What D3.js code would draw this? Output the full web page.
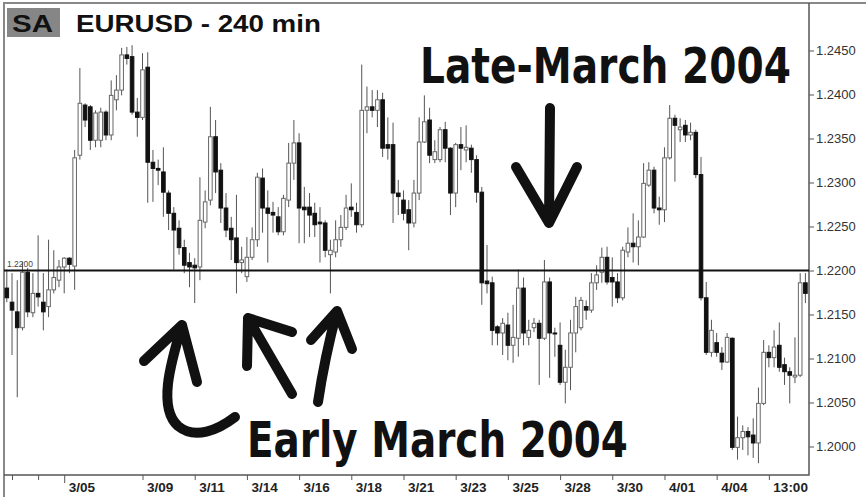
<!DOCTYPE html>
<html lang="en">
<head>
	<title>EURUSD - 240 min</title>
	<meta charset="utf-8">
	<script src="https://d3js.org/d3.v7.min.js"></script>
	<style type="text/css">
		body {
			margin: 0;
			background: #fff;
		}

		svg {
			display: block;
		}

		.price-axis text {
			font-family: "Liberation Sans", Arial, sans-serif;
			font-size: 13px;
			fill: #333;
		}

		.time-axis text {
			font-family: "Liberation Sans", Arial, sans-serif;
			font-size: 13.5px;
			font-weight: bold;
			fill: #222;
		}

		.price-axis line,
		.time-axis line {
			stroke: #555;
		}

		path.domain {
			display: none;
		}

		.note {
			font-family: "Liberation Sans Narrow", "DejaVu Sans Condensed", "Liberation Sans", sans-serif;
			font-weight: bold;
			font-size: 50px;
			fill: #111;
		}

		.arrow {
			fill: none;
			stroke: #111;
			stroke-width: 10;
			stroke-linecap: round;
			stroke-linejoin: round;
		}
	</style>
</head>
<body>

	<div id="vis"></div>

	<script type="text/javascript">

		/* Data: EURUSD 240 min bars, early March to early April 2004 */
		/* ========================================================== */

		const opens = [
			1.2180, 1.2164, 1.2153, 1.2135, 1.2198, 1.2152, 1.2174, 1.2164, 1.2159, 1.2178,
			1.2189, 1.2204, 1.2214, 1.2205, 1.2331, 1.2388, 1.2386, 1.2348, 1.2348, 1.2380,
			1.2354, 1.2394, 1.2405, 1.2445, 1.2443, 1.2380, 1.2374, 1.2431, 1.2323, 1.2316,
			1.2312, 1.2288, 1.2265, 1.2248, 1.2226, 1.2209, 1.2206, 1.2204, 1.2255, 1.2280,
			1.2352, 1.2314, 1.2271, 1.2248, 1.2237, 1.2209, 1.2193, 1.2215, 1.2235, 1.2305,
			1.2271, 1.2266, 1.2261, 1.2244, 1.2280, 1.2322, 1.2345, 1.2272, 1.2272, 1.2265,
			1.2255, 1.2254, 1.2218, 1.2221, 1.2235, 1.2249, 1.2272, 1.2266, 1.2252, 1.2382,
			1.2386, 1.2382, 1.2394, 1.2343, 1.2343, 1.2288, 1.2280, 1.2269, 1.2254, 1.2288,
			1.2346, 1.2371, 1.2326, 1.2326, 1.2360, 1.2339, 1.2288, 1.2343, 1.2337, 1.2339,
			1.2326, 1.2289, 1.2188, 1.2186, 1.2136, 1.2129, 1.2138, 1.2115, 1.2123, 1.2180,
			1.2124, 1.2135, 1.2140, 1.2123, 1.2187, 1.2129, 1.2115, 1.2073, 1.2090, 1.2129,
			1.2135, 1.2159, 1.2155, 1.2186, 1.2198, 1.2215, 1.2192, 1.2187, 1.2169, 1.2221,
			1.2231, 1.2227, 1.2238, 1.2297, 1.2314, 1.2271, 1.2269, 1.2328, 1.2373, 1.2360,
			1.2365, 1.2354, 1.2357, 1.2309, 1.2169, 1.2107, 1.2118, 1.2106, 1.2096, 1.2123,
			1.1999, 1.2010, 1.2017, 1.2013, 1.2004, 1.2049, 1.2107, 1.2101, 1.2115, 1.2093,
			1.2085, 1.2079, 1.2081, 1.2186
		];

		const highs = [
			1.2201, 1.2197, 1.2189, 1.2210, 1.2203, 1.2197, 1.2240, 1.2197, 1.2235, 1.2223,
			1.2212, 1.2215, 1.2215, 1.2337, 1.2430, 1.2390, 1.2388, 1.2382, 1.2385, 1.2382,
			1.2416, 1.2422, 1.2453, 1.2454, 1.2456, 1.2396, 1.2447, 1.2448, 1.2337, 1.2326,
			1.2340, 1.2291, 1.2272, 1.2257, 1.2235, 1.2220, 1.2214, 1.2306, 1.2291, 1.2386,
			1.2371, 1.2322, 1.2288, 1.2261, 1.2286, 1.2227, 1.2238, 1.2249, 1.2311, 1.2316,
			1.2291, 1.2278, 1.2272, 1.2286, 1.2345, 1.2371, 1.2356, 1.2295, 1.2288, 1.2277,
			1.2272, 1.2257, 1.2235, 1.2257, 1.2263, 1.2286, 1.2299, 1.2277, 1.2434, 1.2409,
			1.2405, 1.2405, 1.2402, 1.2374, 1.2368, 1.2303, 1.2291, 1.2280, 1.2303, 1.2374,
			1.2399, 1.2385, 1.2348, 1.2363, 1.2369, 1.2340, 1.2345, 1.2363, 1.2365, 1.2343,
			1.2331, 1.2295, 1.2229, 1.2193, 1.2138, 1.2146, 1.2152, 1.2161, 1.2201, 1.2192,
			1.2144, 1.2146, 1.2144, 1.2212, 1.2192, 1.2135, 1.2141, 1.2110, 1.2144, 1.2170,
			1.2170, 1.2166, 1.2197, 1.2206, 1.2226, 1.2227, 1.2215, 1.2197, 1.2227, 1.2249,
			1.2265, 1.2257, 1.2322, 1.2323, 1.2318, 1.2284, 1.2340, 1.2388, 1.2377, 1.2373,
			1.2371, 1.2368, 1.2360, 1.2329, 1.2187, 1.2144, 1.2129, 1.2113, 1.2129, 1.2124,
			1.2034, 1.2024, 1.2022, 1.2032, 1.2067, 1.2121, 1.2115, 1.2132, 1.2141, 1.2101,
			1.2090, 1.2124, 1.2197, 1.2197
		];

		const lows = [
			1.2164, 1.2104, 1.2056, 1.2132, 1.2147, 1.2147, 1.2159, 1.2132, 1.2147, 1.2174,
			1.2181, 1.2174, 1.2197, 1.2178, 1.2326, 1.2363, 1.2337, 1.2340, 1.2340, 1.2348,
			1.2348, 1.2382, 1.2399, 1.2434, 1.2377, 1.2352, 1.2371, 1.2277, 1.2278, 1.2297,
			1.2261, 1.2246, 1.2201, 1.2218, 1.2197, 1.2181, 1.2163, 1.2189, 1.2248, 1.2274,
			1.2288, 1.2254, 1.2238, 1.2212, 1.2174, 1.2197, 1.2187, 1.2212, 1.2227, 1.2243,
			1.2209, 1.2243, 1.2240, 1.2240, 1.2272, 1.2303, 1.2231, 1.2231, 1.2238, 1.2238,
			1.2209, 1.2215, 1.2174, 1.2215, 1.2227, 1.2246, 1.2261, 1.2243, 1.2249, 1.2356,
			1.2374, 1.2363, 1.2329, 1.2326, 1.2254, 1.2263, 1.2257, 1.2223, 1.2249, 1.2280,
			1.2345, 1.2322, 1.2322, 1.2323, 1.2323, 1.2263, 1.2272, 1.2314, 1.2323, 1.2311,
			1.2277, 1.2161, 1.2174, 1.2115, 1.2115, 1.2104, 1.2098, 1.2095, 1.2102, 1.2115,
			1.2115, 1.2130, 1.2070, 1.2121, 1.2078, 1.2102, 1.2070, 1.2049, 1.2064, 1.2107,
			1.2132, 1.2144, 1.2152, 1.2178, 1.2186, 1.2184, 1.2159, 1.2163, 1.2166, 1.2215,
			1.2209, 1.2206, 1.2237, 1.2295, 1.2265, 1.2252, 1.2255, 1.2326, 1.2301, 1.2346,
			1.2346, 1.2348, 1.2305, 1.2166, 1.2104, 1.2102, 1.2102, 1.2087, 1.2095, 1.1996,
			1.1985, 1.1996, 1.1990, 1.1987, 1.1981, 1.2047, 1.2090, 1.2090, 1.2085, 1.2070,
			1.2049, 1.2072, 1.2079, 1.2163
		];

		const closes = [
			1.2169, 1.2155, 1.2135, 1.2198, 1.2153, 1.2174, 1.2170, 1.2153, 1.2178, 1.2192,
			1.2204, 1.2214, 1.2207, 1.2328, 1.2390, 1.2371, 1.2348, 1.2379, 1.2380, 1.2354,
			1.2399, 1.2405, 1.2445, 1.2441, 1.2380, 1.2374, 1.2428, 1.2323, 1.2316, 1.2314,
			1.2289, 1.2265, 1.2246, 1.2226, 1.2206, 1.2204, 1.2203, 1.2257, 1.2278, 1.2352,
			1.2312, 1.2271, 1.2246, 1.2235, 1.2209, 1.2212, 1.2215, 1.2235, 1.2306, 1.2271,
			1.2265, 1.2263, 1.2244, 1.2282, 1.2322, 1.2345, 1.2271, 1.2269, 1.2263, 1.2252,
			1.2253, 1.2223, 1.2223, 1.2235, 1.2249, 1.2271, 1.2269, 1.2252, 1.2382, 1.2386,
			1.2382, 1.2394, 1.2339, 1.2339, 1.2288, 1.2284, 1.2265, 1.2254, 1.2288, 1.2346,
			1.2369, 1.2331, 1.2335, 1.2360, 1.2339, 1.2288, 1.2343, 1.2339, 1.2340, 1.2326,
			1.2289, 1.2186, 1.2185, 1.2132, 1.2129, 1.2140, 1.2115, 1.2124, 1.2180, 1.2129,
			1.2132, 1.2140, 1.2123, 1.2187, 1.2129, 1.2128, 1.2073, 1.2090, 1.2129, 1.2159,
			1.2166, 1.2155, 1.2186, 1.2195, 1.2215, 1.2187, 1.2187, 1.2169, 1.2223, 1.2231,
			1.2227, 1.2238, 1.2299, 1.2314, 1.2271, 1.2269, 1.2328, 1.2373, 1.2365, 1.2363,
			1.2354, 1.2357, 1.2309, 1.2169, 1.2107, 1.2132, 1.2107, 1.2096, 1.2124, 1.1999,
			1.2010, 1.2017, 1.2011, 1.2004, 1.2049, 1.2107, 1.2101, 1.2113, 1.2090, 1.2085,
			1.2081, 1.2081, 1.2186, 1.2174
		];

		// bar index of each time tick and its label
		const tickBars = [1, 6, 11, 26, 36, 46, 56, 66, 76, 86, 96, 106, 116, 126, 136, 146];
		const tickLabels = ["", "", "3/05", "3/09", "3/11", "3/14", "3/16", "3/18", "3/21",
			"3/23", "3/25", "3/28", "3/30", "4/01", "4/04", "13:00"];

		const priceTicks = [1.2000, 1.2050, 1.2100, 1.2150, 1.2200, 1.2250, 1.2300, 1.2350, 1.2400, 1.2450];
		const supportLevel = 1.2200;


		/* Set up */
		/* ====== */

		var width = 866,
			height = 497;

		var plot = { left: 4, top: 3, right: 809, bottom: 475 };

		var svg = d3.select('#vis')
			.append('svg')
			.attr('width', width)
			.attr('height', height);

		var bars = opens.map(function (o, i) {
			return { i: i, open: o, high: highs[i], low: lows[i], close: closes[i] };
		});

		/* Scales */

		var xScale = d3.scaleLinear()
			.domain([0, bars.length - 1])
			.range([6.8, 805.4]);

		var yScale = d3.scaleLinear()
			.domain([1.2000, 1.2450])
			.range([446.5, 50.5]);


		/* Frame and axes */
		/* ============== */

		svg.append('path')
			.attr('d', 'M' + plot.left + ',' + height + 'V' + plot.top + 'H' + width)
			.style('fill', 'none')
			.style('stroke', '#888')
			.style('stroke-width', 2);

		var priceAxis = d3.axisRight(yScale)
			.tickValues(priceTicks)
			.tickFormat(d3.format('.4f'))
			.tickSize(5)
			.tickPadding(2);

		svg.append('g')
			.attr('class', 'price-axis')
			.attr('transform', 'translate(' + plot.right + ', 0)')
			.call(priceAxis);

		var timeAxis = d3.axisBottom(xScale)
			.tickValues(tickBars)
			.tickSize(5)
			.tickPadding(2)
			.tickFormat(function (d, i) { return tickLabels[i]; });

		var timeAxisDraw = svg.append('g')
			.attr('class', 'time-axis')
			.attr('transform', 'translate(0, ' + plot.bottom + ')')
			.call(timeAxis);

		timeAxisDraw.selectAll('text')
			.attr('dx', '4')
			.style('text-anchor', 'start');

		// 3/05 gets the longer tick
		timeAxisDraw.selectAll('line')
			.attr('y2', function (d, i) { return i === 2 ? 8 : 5; });

		svg.append('path')
			.attr('d', 'M' + plot.left + ',' + plot.bottom + 'H' + plot.right + 'V' + plot.top)
			.style('fill', 'none')
			.style('stroke', '#555')
			.style('stroke-width', 1.5);


		/* Candles */
		/* ======= */

		var bodyWidth = 3.6;

		var gCandles = svg.append('g').attr('class', 'candles');

		gCandles.selectAll('.wick')
			.data(bars).enter()
			.append('line')
			.attr('class', 'wick')
			.attr('x1', function (d) { return xScale(d.i); })
			.attr('x2', function (d) { return xScale(d.i); })
			.attr('y1', function (d) { return yScale(d.high); })
			.attr('y2', function (d) { return yScale(d.low); })
			.style('stroke', '#555')
			.style('stroke-width', 1);

		gCandles.selectAll('.body')
			.data(bars).enter()
			.append('rect')
			.attr('class', 'body')
			.attr('x', function (d) { return xScale(d.i) - bodyWidth / 2; })
			.attr('y', function (d) { return yScale(Math.max(d.open, d.close)); })
			.attr('width', bodyWidth)
			.attr('height', function (d) {
				return Math.max(1, Math.abs(yScale(d.open) - yScale(d.close)));
			})
			.style('fill', function (d) { return d.close >= d.open ? '#fff' : '#111'; })
			.style('stroke', function (d) { return d.close >= d.open ? '#666' : '#111'; })
			.style('stroke-width', 1);


		/* Support line at 1.2200 */

		svg.append('line')
			.attr('x1', plot.left)
			.attr('x2', plot.right)
			.attr('y1', yScale(supportLevel))
			.attr('y2', yScale(supportLevel))
			.style('stroke', '#111')
			.style('stroke-width', 2);

		svg.append('text')
			.attr('x', 7)
			.attr('y', yScale(supportLevel) - 4)
			.style('font-family', '"Liberation Sans", Arial, sans-serif')
			.style('font-size', '8.5px')
			.style('fill', '#444')
			.text(d3.format('.4f')(supportLevel));


		/* Text fitted to a width by a horizontal scale */
		function fitText(sel, x, y, targetWidth) {
			var w = sel.node().getComputedTextLength();
			sel.attr('transform', 'translate(' + x + ',' + y + ') scale(' + (targetWidth / w) + ',1)');
			return sel;
		}


		/* Title */
		/* ===== */

		svg.append('rect')
			.attr('x', 7)
			.attr('y', 8)
			.attr('width', 53)
			.attr('height', 29)
			.style('fill', '#868686');

		var saText = svg.append('text')
			.style('font-family', '"Liberation Sans", Arial, sans-serif')
			.style('font-size', '24px')
			.style('font-weight', 'bold')
			.style('fill', '#111')
			.text('SA');
		fitText(saText, 12, 32, 41);

		var titleText = svg.append('text')
			.style('font-family', '"Liberation Sans", Arial, sans-serif')
			.style('font-size', '24px')
			.style('font-weight', 'bold')
			.style('fill', '#111')
			.text('EURUSD - 240 min');
		fitText(titleText, 76, 32, 245);


		/* Annotations */
		/* =========== */

		var lateText = svg.append('text')
			.attr('class', 'note')
			.text('Late-March 2004');
		fitText(lateText, 420, 83, 371);

		var earlyText = svg.append('text')
			.attr('class', 'note')
			.text('Early March 2004');
		fitText(earlyText, 247, 457, 381);

		var arrows = [
			// down arrow
			'M550,108 L549,222 M516,167 L549,223 L577,167',
			// hook arrow
			'M144,361 L182,325 L197,382 M182,325 C170,365 158,408 178,426 C195,440 218,430 235,417',
			// middle arrow
			'M247,366 L248,318 L292,332 M248,318 L292,394',
			// right arrow
			'M311,340 L337,311 L352,349 M337,311 C328,345 322,375 318,402'
		];

		svg.selectAll('.arrow')
			.data(arrows).enter()
			.append('path')
			.attr('class', 'arrow')
			.attr('d', function (d) { return d; });

	</script>

</body>
</html>
